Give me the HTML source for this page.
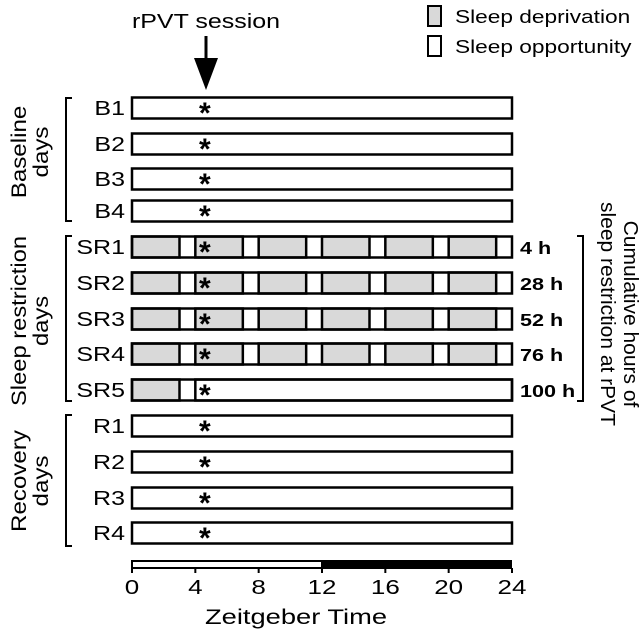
<!DOCTYPE html>
<html><head><meta charset="utf-8"><style>
body{margin:0;background:#fff;}
svg{display:block;font-family:"Liberation Sans",Arial,sans-serif;}
</style></head><body>
<svg id="chart" width="644" height="636" viewBox="0 0 644 636">
<g id="rows"></g>
<g id="axis"></g>
<g>
<rect x="428" y="6" width="13" height="20" fill="#d9d9d9" stroke="#000" stroke-width="2"/>
<text transform="translate(455,23) scale(1.26,1)" font-size="18">Sleep deprivation</text>
<rect x="428" y="36" width="13" height="20" fill="#fff" stroke="#000" stroke-width="2"/>
<text transform="translate(455,53) scale(1.26,1)" font-size="18">Sleep opportunity</text>
</g>
<text transform="translate(206,28) scale(1.25,1)" font-size="20" text-anchor="middle">rPVT session</text>
<line x1="206" y1="36" x2="206" y2="62" stroke="#000" stroke-width="3"/>
<polygon points="194,58 218,58 206,90" fill="#000"/>
<g fill="none" stroke="#000" stroke-width="2">
<path d="M72,98 H66 V221 H72"/>
<path d="M72,236 H66 V401 H72"/>
<path d="M72,415 H66 V546 H72"/>
<path d="M577,236 H583 V401 H577"/>
</g>
<g font-size="21" text-anchor="middle">
<text transform="translate(26,152) rotate(-90) scale(1.15,1)"><tspan x="0" y="0">Baseline</tspan><tspan x="0" y="22">days</tspan></text>
<text transform="translate(26,321) rotate(-90) scale(1.13,1)"><tspan x="0" y="0">Sleep restriction</tspan><tspan x="0" y="22">days</tspan></text>
<text transform="translate(26,481) rotate(-90) scale(1.15,1)"><tspan x="0" y="0">Recovery</tspan><tspan x="0" y="22">days</tspan></text>
</g>
<text transform="translate(614,314) rotate(90) scale(1.05,1)" font-size="20" text-anchor="middle"><tspan x="0" y="-10">Cumulative hours of</tspan><tspan x="0" y="13">sleep restriction at rPVT</tspan></text>
<text transform="translate(296,624) scale(1.3,1)" font-size="21" text-anchor="middle">Zeitgeber Time</text>
</svg>
<script>
const dayLabels=["B1","B2","B3","B4","SR1","SR2","SR3","SR4","SR5","R1","R2","R3","R4"];
const rowCenters=[108,144,179,211,247,283,319,354,390,426,462,498,533];
const deprivationDays=["SR1","SR2","SR3","SR4"];
const sleepWindows=[[3,4],[7,8],[11,12],[15,16],[19,20],[23,24]];
const sr5Deprivation=[0,3];
const sr5Sleep=[3,4];
const rpvtTime=4.6;
const cumulativeLabels={"SR1":"4 h","SR2":"28 h","SR3":"52 h","SR4":"76 h","SR5":"100 h"};
const ticks=[0,4,8,12,16,20,24];
const lightPeriod=[0,12];
const darkPeriod=[12,24];

const NS="http://www.w3.org/2000/svg";
const x=h=>132+h*(380/24);
const H=21;
function mk(p,tag,a){const e=document.createElementNS(NS,tag);for(const k in a)e.setAttribute(k,a[k]);p.appendChild(e);return e;}
const rows=document.getElementById('rows');
dayLabels.forEach((d,i)=>{
  const cy=rowCenters[i],y=cy-H/2;
  const g=mk(rows,'g',{});
  
  
  const bg=mk(g,'rect',{x:x(0),y:y,width:x(24)-x(0),height:H,fill:'#fff'});
  
  
  if(deprivationDays.includes(d)){
    let s=0;
    sleepWindows.forEach(w=>{
      const r=mk(g,'rect',{x:x(s),y:y,width:x(w[0])-x(s),height:H,fill:'#d9d9d9',stroke:'#000','stroke-width':2.5});
      
      
      s=w[1];
    });
  } else if(d==="SR5"){
    const r=mk(g,'rect',{x:x(sr5Deprivation[0]),y:y,width:x(sr5Deprivation[1])-x(sr5Deprivation[0]),height:H,fill:'#d9d9d9',stroke:'#000','stroke-width':2.5});
    
    
    const r2=mk(g,'rect',{x:x(sr5Sleep[1]),y:y,width:x(24)-x(sr5Sleep[1]),height:H,fill:'#fff',stroke:'#000','stroke-width':2.5});
    
    
  }
  const ol=mk(g,'rect',{x:x(0),y:y,width:x(24)-x(0),height:H,fill:'none',stroke:'#000','stroke-width':2.5});
  
  
  const t=mk(g,'text',{transform:'translate(125,'+(cy+7)+') scale(1.25,1)','font-size':20,'text-anchor':'end'});t.textContent=d;
  
  
  const a=mk(g,'text',{x:x(rpvtTime),y:cy+15,'font-size':30,'font-weight':'bold','text-anchor':'middle'});a.textContent='*';
  
  
  if(cumulativeLabels[d]){
    const c=mk(g,'text',{transform:'translate(520,'+(cy+7)+') scale(1.2,1)','font-size':18,'font-weight':'bold'});c.textContent=cumulativeLabels[d];
    
    
  }
});
const ax=document.getElementById('axis');
const lp=mk(ax,'rect',{x:x(lightPeriod[0]),y:561,width:x(lightPeriod[1])-x(lightPeriod[0]),height:7,fill:'#fff',stroke:'#000','stroke-width':2});


const dp=mk(ax,'rect',{x:x(darkPeriod[0]),y:560,width:x(darkPeriod[1])-x(darkPeriod[0]),height:9,fill:'#000'});


ticks.forEach(t=>{
  const l=mk(ax,'line',{x1:x(t),x2:x(t),y1:568,y2:573,stroke:'#000','stroke-width':2});
  
  
  const tx=mk(ax,'text',{transform:'translate('+x(t)+',594) scale(1.3,1)','font-size':20,'text-anchor':'middle'});tx.textContent=t;
  
  
});
</script>
</body></html>
